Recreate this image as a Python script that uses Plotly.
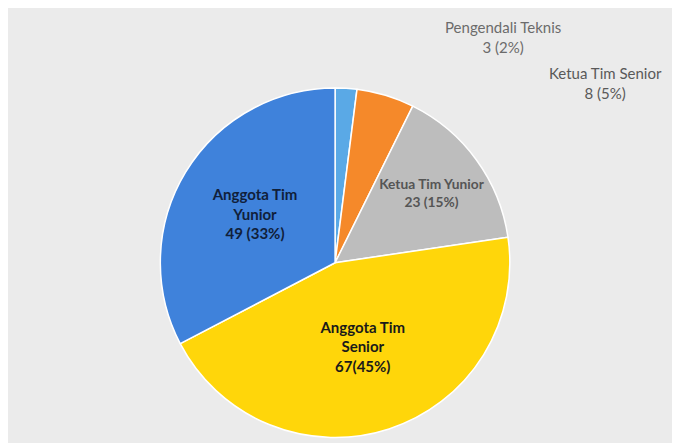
import plotly.graph_objects as go

categories = ["Pengendali Teknis", "Ketua Tim Senior", "Ketua Tim Yunior",
              "Anggota Tim Senior", "Anggota Tim Yunior"]
display_names = ["Pengendali Teknis", "Ketua Tim Senior", "Ketua Tim Yunior",
                 "Anggota Tim<br>Senior", "Anggota Tim<br>Yunior"]
values = [3, 8, 23, 67, 49]
percent_labels = ["3 (2%)", "8 (5%)", "23 (15%)", "67(45%)", "49 (33%)"]
colors = ["#5AA9E6", "#F5892A", "#BDBDBD", "#FFD60A", "#3F82DB"]
inside_flags = [False, False, True, True, True]
text_colors = ["#6B6B6B", "#595959", "#555555", "#1A1A1A", "#10203A"]

texts = [f"{n}<br>{p}" for n, p in zip(display_names, percent_labels)]
pie_texts = [t if f else "" for t, f in zip(texts, inside_flags)]

fig = go.Figure(go.Pie(
    labels=categories,
    values=values,
    text=pie_texts,
    textinfo="text",
    textposition="inside",
    insidetextorientation="horizontal",
    sort=False,
    direction="clockwise",
    rotation=0,
    marker=dict(colors=colors, line=dict(color="#FFFFFF", width=1.5)),
    textfont=dict(family="Lato", size=15, color=text_colors, weight="bold"),
    domain=dict(x=[0.224, 0.738], y=[0.03, 0.82]),
    showlegend=False,
    hoverinfo="label+value+percent",
))

# outside labels for the two small slices
outside_pos = {0: (0.728, 0.935), 1: (0.878, 0.83)}
for i, (ax, ay) in outside_pos.items():
    fig.add_annotation(
        x=ax, y=ay, xref="paper", yref="paper",
        xanchor="center", yanchor="middle",
        text=texts[i], showarrow=False,
        font=dict(family="Lato", size=15, color=text_colors[i]),
        align="center",
    )

fig.update_layout(
    width=680, height=443,
    margin=dict(l=0, r=0, t=0, b=0),
    paper_bgcolor="#EBEBEB",
    plot_bgcolor="#EBEBEB",
    font=dict(family="Lato"),
)

fig.write_html("out.html")
